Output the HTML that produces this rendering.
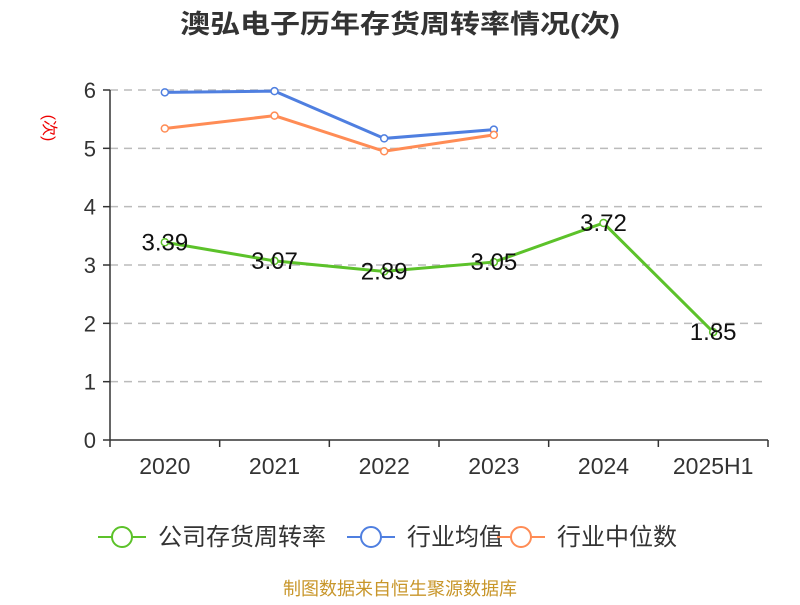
<!DOCTYPE html>
<html><head><meta charset="utf-8"><style>
body{margin:0;background:#fff;font-family:"Liberation Sans","Noto Sans CJK SC",sans-serif}
</style></head><body>
<svg width="800" height="600" xmlns="http://www.w3.org/2000/svg" id="c" font-family="Liberation Sans, Noto Sans CJK SC, sans-serif">
<text x="400" y="33" text-anchor="middle" font-size="26" font-weight="bold" fill="#333" textLength="440" lengthAdjust="spacingAndGlyphs">澳弘电子历年存货周转率情况(次)</text>
<text x="0" y="0" transform="translate(44,128) rotate(90)" text-anchor="middle" font-size="16" fill="#e00">(次)</text>
<g id="grid"></g><g id="axes"></g><g id="series"></g>
<g>
<g><line x1="98" y1="537" x2="146" y2="537" stroke="#5cc22a" stroke-width="2"/><circle cx="122" cy="537" r="10" fill="#fff" stroke="#5cc22a" stroke-width="2"/><text x="158" y="545" font-size="24" fill="#333">公司存货周转率</text></g>
<g><line x1="347" y1="537" x2="395" y2="537" stroke="#4f7fe0" stroke-width="2"/><circle cx="371" cy="537" r="10" fill="#fff" stroke="#4f7fe0" stroke-width="2"/><text x="407" y="545" font-size="24" fill="#333">行业均值</text></g>
<g><line x1="497" y1="537" x2="545" y2="537" stroke="#ff8c55" stroke-width="2"/><circle cx="521" cy="537" r="10" fill="#fff" stroke="#ff8c55" stroke-width="2"/><text x="557" y="545" font-size="24" fill="#333">行业中位数</text></g>
</g>
<text x="400" y="595" text-anchor="middle" font-size="18" fill="#c8962a">制图数据来自恒生聚源数据库</text>
</svg>
<script>
const categories=["2020","2021","2022","2023","2024","2025H1"];
const company=[3.39,3.07,2.89,3.05,3.72,1.85];
const industryAvg=[5.96,5.98,5.17,5.32];
const industryMedian=[5.34,5.56,4.95,5.23];
const yTicks=[0,1,2,3,4,5,6];
const NS="http://www.w3.org/2000/svg";
const X0=110,X1=768,Y0=440,Y6=90;
const bw=(X1-X0)/categories.length;
const x=i=>X0+bw*(i+0.5);
const y=v=>Y0-(Y0-Y6)*v/6;
function mk(tag,attrs,parent){const e=document.createElementNS(NS,tag);for(const k in attrs)e.setAttribute(k,attrs[k]);parent.appendChild(e);return e;}
const grid=document.getElementById('grid'),axes=document.getElementById('axes'),ser=document.getElementById('series');
yTicks.forEach(t=>{
 if(t>0){const g=mk('line',{x1:X0,x2:X1,y1:y(t),y2:y(t),stroke:'#bbb','stroke-width':1.5,'stroke-dasharray':'8,6'},grid);
 
 }
 const tk=mk('line',{x1:X0-7,x2:X0,y1:y(t),y2:y(t),stroke:'#333','stroke-width':1.5},axes);
 
 
 const l=mk('text',{x:X0-14,y:y(t)+8,'text-anchor':'end','font-size':22,fill:'#333'},axes);l.textContent=t;
 
 
});
const ya=mk('line',{x1:X0,x2:X0,y1:Y6,y2:Y0,stroke:'#333','stroke-width':1.5},axes);


const xa=mk('line',{x1:X0,x2:X1,y1:Y0,y2:Y0,stroke:'#333','stroke-width':1.5},axes);


for(let i=0;i<=categories.length;i++){const t=mk('line',{x1:X0+bw*i,x2:X0+bw*i,y1:Y0,y2:Y0+7,stroke:'#333','stroke-width':1.5},axes);
 
 }
categories.forEach((c,i)=>{const l=mk('text',{x:x(i),y:Y0+34,'text-anchor':'middle','font-size':23,fill:'#333'},axes);l.textContent=c;
 
 });
function series(data,color,name,labels){
 const p=mk('polyline',{points:data.map((v,i)=>x(i)+','+y(v)).join(' '),fill:'none',stroke:color,'stroke-width':3},ser);
 
 
 data.forEach((v,i)=>{const c=mk('circle',{cx:x(i),cy:y(v),r:3.5,fill:'#fff',stroke:color,'stroke-width':1.5},ser);
  
  
  if(labels){const t=mk('text',{x:x(i),y:y(v)+8,'text-anchor':'middle','font-size':24,fill:'#111'},ser);t.textContent=v.toFixed(2);
  
  }
 });
}
series(industryAvg,'#4f7fe0','industry-average',false);
series(industryMedian,'#ff8c55','industry-median',false);
series(company,'#5cc22a','company',true);
</script>
</body></html>
